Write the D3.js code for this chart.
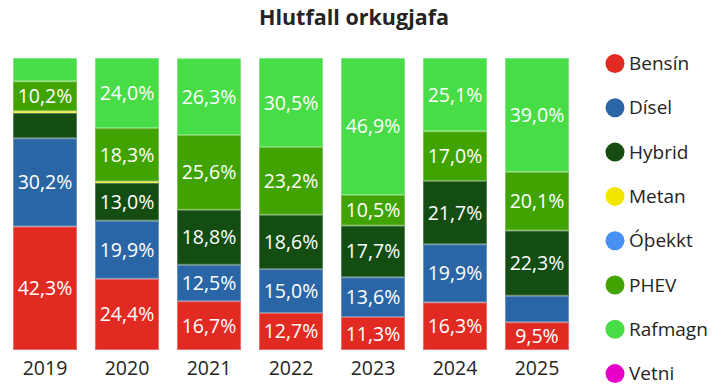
<!DOCTYPE html>
<html>
<head>
<meta charset="utf-8">
<script src="https://cdn.jsdelivr.net/npm/d3@7"></script>
<style>
  body { margin: 0; background: #fff; }
  text { font-family: "Segoe UI", "Open Sans", "Noto Sans", sans-serif; }
</style>
</head>
<body>
<svg id="chart" width="721" height="388"></svg>
<script>
var years = ["2019", "2020", "2021", "2022", "2023", "2024", "2025"];
var seriesNames = ["Bensín", "Dísel", "Hybrid", "Metan", "Óþekkt", "PHEV", "Rafmagn", "Vetni"];
var seriesColors = ["#e12b22", "#2a66a5", "#134d12", "#f2e600", "#4791f5", "#41a302", "#48dc46", "#e600c8"];

// shares in percent
var bensin  = [42.3, 24.4, 16.7, 12.7, 11.3, 16.3, 9.5];
var disel   = [30.2, 19.9, 12.5, 15.0, 13.6, 19.9, 9.1];
var hybrid  = [8.7, 13.0, 18.8, 18.6, 17.7, 21.7, 22.3];
var metan   = [0.6, 0.4, 0, 0, 0, 0, 0];
var othekkt = [0, 0, 0, 0, 0, 0, 0];
var phev    = [10.2, 18.3, 25.6, 23.2, 10.5, 17.0, 20.1];
var rafmagn = [8.0, 24.0, 26.3, 30.5, 46.9, 25.1, 39.0];
var vetni   = [0, 0, 0, 0, 0, 0, 0];

var allSeries = [bensin, disel, hybrid, metan, othekkt, phev, rafmagn, vetni];

var rows = years.map(function(y, i) {
  var r = { year: y };
  seriesNames.forEach(function(n, k) { r[n] = allSeries[k][i]; });
  return r;
});

var svg = d3.select("#chart");

var x = d3.scaleBand()
    .domain(years)
    .range([4, 578])
    .paddingInner(0.22)
    .paddingOuter(0.11);

var y = d3.scaleLinear()
    .domain([0, 100])
    .range([350, 58]);

var color = d3.scaleOrdinal(seriesNames, seriesColors);

var stacked = d3.stack().keys(seriesNames)(rows);

// title
svg.append("text")
    .attr("x", 354)
    .attr("y", 25)
    .attr("text-anchor", "middle")
    .style("font-size", "21.5px")
    .style("font-weight", "bold")
    .attr("fill", "#252423")
    .text("Hlutfall orkugjafa");

var layer = svg.append("g")
  .selectAll("g")
  .data(stacked)
  .enter().append("g")
    .attr("fill", function(d) { return color(d.key); })
    .attr("stroke", function(d) { return d3.interpolateRgb(color(d.key), "#fff")(0.3); });

layer.selectAll("rect")
  .data(function(d) { return d.filter(function(s) { return s[1] - s[0] > 0; }); })
  .enter().append("rect")
    .attr("x", function(d) { return x(d.data.year) + 0.5; })
    .attr("width", x.bandwidth() - 1)
    .attr("y", function(d) { return y(d[1]) + 0.5; })
    .attr("height", function(d) { return Math.max(0.5, y(d[0]) - y(d[1]) - 1); })
    .attr("stroke-width", 1);

// value labels (small segments get none)
var labels = [];
stacked.forEach(function(s) {
  s.forEach(function(d) {
    if (d[1] - d[0] >= 9.3) labels.push({ year: d.data.year, v: d[1] - d[0], mid: (d[0] + d[1]) / 2 });
  });
});

svg.append("g")
  .selectAll("text")
  .data(labels)
  .enter().append("text")
    .attr("x", function(d) { return x(d.year) + x.bandwidth() / 2; })
    .attr("y", function(d) { return y(d.mid); })
    .attr("dy", "0.36em")
    .attr("text-anchor", "middle")
    .attr("fill", "#fff")
    .style("font-size", "19.5px")
    .text(function(d) { return d.v.toFixed(1).replace(".", ",") + "%"; });

// x axis labels
var xAxis = svg.append("g")
    .attr("transform", "translate(0,357)")
    .call(d3.axisBottom(x).tickSize(0).tickPadding(4));
xAxis.select(".domain").remove();
xAxis.selectAll("text")
    .attr("fill", "#252423")
    .style("font-size", "19.5px")
    .style("font-family", "'Segoe UI', 'Open Sans', 'Noto Sans', sans-serif");

// legend
var legend = svg.append("g")
  .selectAll("g")
  .data(seriesNames)
  .enter().append("g")
    .attr("transform", function(d, i) { return "translate(615," + (63.5 + i * 44.3) + ")"; });

legend.append("circle")
    .attr("r", 9.5)
    .attr("fill", function(d) { return color(d); });

legend.append("text")
    .attr("x", 14)
    .attr("dy", "0.35em")
    .attr("fill", "#252423")
    .style("font-size", "19px")
    .text(function(d) { return d; });
</script>
</body>
</html>
